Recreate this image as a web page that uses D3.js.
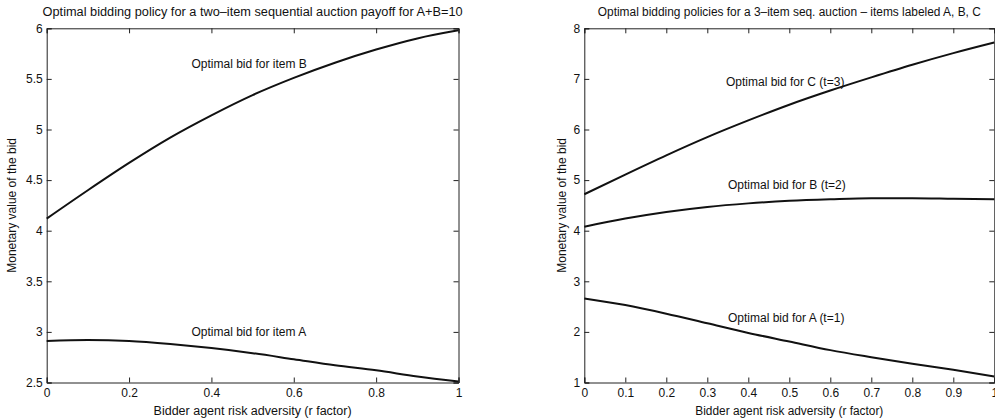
<!DOCTYPE html>
<html>
<head>
<meta charset="utf-8">
<script src="https://cdn.jsdelivr.net/npm/d3@7"></script>
<style>
  html, body { margin: 0; padding: 0; background: #fff; }
  svg { display: block; }
  text { font-family: "Liberation Sans", Arial, Helvetica, sans-serif; fill: #111; }
</style>
</head>
<body>
<svg id="fig" width="995" height="420"></svg>
<script>
// Risk-aversion factor r sampled on [0, 1]
const rFactor = [0, 0.1, 0.2, 0.3, 0.4, 0.5, 0.6, 0.7, 0.8, 0.9, 1.0];

// Two-item auction (A+B = 10): optimal bids
const twoItemBidB = [4.12, 4.40, 4.67, 4.92, 5.14, 5.34, 5.51, 5.66, 5.79, 5.90, 5.98];
const twoItemBidA = [2.91, 2.92, 2.91, 2.88, 2.84, 2.79, 2.73, 2.67, 2.62, 2.56, 2.51];

// Three-item auction: optimal bids per stage
const threeItemBidC = [4.72, 5.11, 5.49, 5.85, 6.18, 6.49, 6.77, 7.03, 7.28, 7.51, 7.72];
const threeItemBidB = [4.08, 4.24, 4.37, 4.47, 4.54, 4.59, 4.62, 4.64, 4.64, 4.63, 4.62];
const threeItemBidA = [2.66, 2.53, 2.36, 2.17, 1.98, 1.81, 1.64, 1.50, 1.37, 1.25, 1.12];

// Tick values
const leftXTicks = [0, 0.2, 0.4, 0.6, 0.8, 1];
const leftYTicks = [2.5, 3, 3.5, 4, 4.5, 5, 5.5, 6];
const rightXTicks = [0, 0.1, 0.2, 0.3, 0.4, 0.5, 0.6, 0.7, 0.8, 0.9, 1];
const rightYTicks = [1, 2, 3, 4, 5, 6, 7, 8];

const titles = [
  "Optimal bidding policy for a two\u2013item sequential auction payoff for A+B=10",
  "Optimal bidding policies for a 3\u2013item seq. auction \u2013 items labeled A, B, C"
];
const xTitle = "Bidder agent risk adversity (r factor)";
const yTitle = "Monetary value of the bid";

const svg = d3.select("#fig");

function panel(cfg) {
  const x = d3.scaleLinear().domain([0, 1]).range([cfg.x0, cfg.x1]);
  const y = d3.scaleLinear().domain(cfg.yDomain).range([cfg.y1, cfg.y0]);
  const g = svg.append("g");
  const tickLen = 5;
  const fmt = d => String(+d.toFixed(2));

  // box axes with inward ticks on all four sides
  const bottom = d3.axisBottom(x).tickValues(cfg.xTicks).tickSize(-tickLen).tickPadding(6).tickFormat(fmt);
  const top = d3.axisTop(x).tickValues(cfg.xTicks).tickSize(-tickLen).tickFormat("");
  const left = d3.axisLeft(y).tickValues(cfg.yTicks).tickSize(-tickLen).tickPadding(4).tickFormat(fmt);
  const right = d3.axisRight(y).tickValues(cfg.yTicks).tickSize(-tickLen).tickFormat("");

  const axes = [
    g.append("g").attr("transform", `translate(0,${cfg.y1})`).call(bottom),
    g.append("g").attr("transform", `translate(0,${cfg.y0})`).call(top),
    g.append("g").attr("transform", `translate(${cfg.x0},0)`).call(left),
    g.append("g").attr("transform", `translate(${cfg.x1},0)`).call(right)
  ];
  axes.forEach(a => {
    a.select(".domain").attr("stroke", "#222").attr("stroke-width", 1);
    a.selectAll(".tick line").attr("stroke", "#222").attr("stroke-width", 1);
    a.selectAll(".tick text").attr("font-size", 12).attr("fill", "#111")
      .style("font-family", '"Liberation Sans", Arial, sans-serif');
  });

  // curves
  const line = d3.line().x((d, i) => x(rFactor[i])).y(d => y(d)).curve(d3.curveMonotoneX);
  cfg.series.forEach(s => {
    g.append("path").datum(s.values)
      .attr("d", line)
      .attr("fill", "none")
      .attr("stroke", "#111")
      .attr("stroke-width", 2)
      .attr("stroke-linejoin", "round");
    g.append("text").attr("x", s.lx).attr("y", s.ly).attr("font-size", 12).text(s.label);
  });

  // titles
  g.append("text").attr("x", (cfg.x0 + cfg.x1) / 2).attr("y", 16)
    .attr("text-anchor", "middle").attr("font-size", 12.5)
    .attr("textLength", cfg.titleLen).attr("lengthAdjust", "spacingAndGlyphs")
    .text(cfg.title);
  g.append("text").attr("x", (cfg.x0 + cfg.x1) / 2).attr("y", 415)
    .attr("text-anchor", "middle").attr("font-size", 12)
    .attr("textLength", cfg.xTitleLen).attr("lengthAdjust", "spacingAndGlyphs")
    .text(xTitle);
  g.append("text")
    .attr("transform", `translate(${cfg.yTitleX},${(cfg.y0 + cfg.y1) / 2}) rotate(-90)`)
    .attr("text-anchor", "middle").attr("font-size", 12)
    .text(yTitle);
}

panel({
  x0: 46.7, x1: 458.5, y0: 28.3, y1: 382.5,
  yDomain: [2.5, 6], xTicks: leftXTicks, yTicks: leftYTicks,
  title: titles[0], titleLen: 420, xTitleLen: 198, yTitleX: 16,
  series: [
    { values: twoItemBidB, label: "Optimal bid for item B", lx: 191.5, ly: 67.5 },
    { values: twoItemBidA, label: "Optimal bid for item A", lx: 191.5, ly: 336 }
  ]
});

panel({
  x0: 584.3, x1: 994.3, y0: 28.3, y1: 382.5,
  yDomain: [1, 8], xTicks: rightXTicks, yTicks: rightYTicks,
  title: titles[1], titleLen: 383, xTitleLen: 188, yTitleX: 566,
  series: [
    { values: threeItemBidC, label: "Optimal bid for C (t=3)", lx: 726, ly: 86 },
    { values: threeItemBidB, label: "Optimal bid for B (t=2)", lx: 728, ly: 188.5 },
    { values: threeItemBidA, label: "Optimal bid for A (t=1)", lx: 728, ly: 322 }
  ]
});
</script>
</body>
</html>
